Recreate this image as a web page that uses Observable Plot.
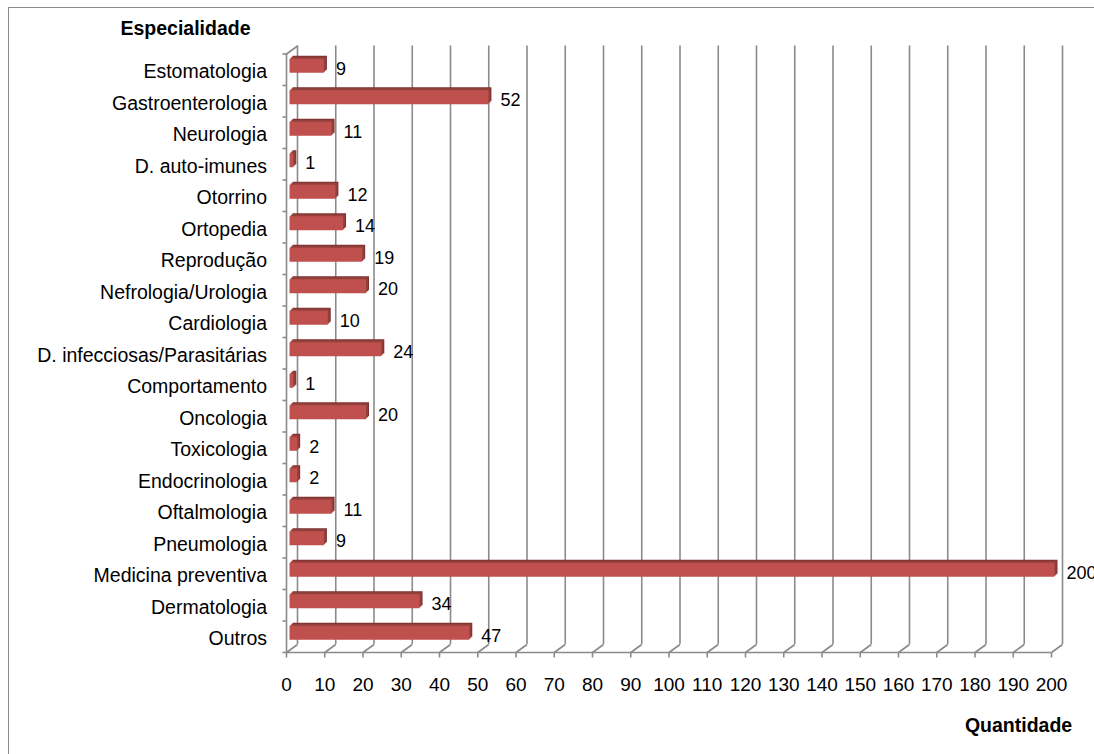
<!DOCTYPE html>
<html><head><meta charset="utf-8">
<script src="https://cdn.jsdelivr.net/npm/d3@7"></script>
<script src="https://cdn.jsdelivr.net/npm/@observablehq/plot@0.6"></script>
<style>
html,body{margin:0;padding:0;background:#fff;overflow:hidden;width:1094px;height:754px}
#chart{position:absolute;left:0;top:0}
#frame{position:absolute;left:8px;top:7px;width:1200px;height:900px;border:1.5px solid #8a8a8a;box-sizing:border-box;pointer-events:none}
</style></head><body><div id="chart"></div><div id="frame"></div>
<script>
const categories = ["Estomatologia", "Gastroenterologia", "Neurologia", "D. auto-imunes", "Otorrino", "Ortopedia", "Reprodução", "Nefrologia/Urologia", "Cardiologia", "D. infecciosas/Parasitárias", "Comportamento", "Oncologia", "Toxicologia", "Endocrinologia", "Oftalmologia", "Pneumologia", "Medicina preventiva", "Dermatologia", "Outros"];
const values = [9, 52, 11, 1, 12, 14, 19, 20, 10, 24, 1, 20, 2, 2, 11, 9, 200, 34, 47];
const xTicks = [0, 10, 20, 30, 40, 50, 60, 70, 80, 90, 100, 110, 120, 130, 140, 150, 160, 170, 180, 190, 200];
const yTitle = "Especialidade";
const xTitle = "Quantidade";

const W = 1094, H = 754, ML = 286, MR = 43, MT = 53.5, MB = 102;
const N = categories.length;
const DX = 11, DY = -8; // 3D depth of the walls, in pixels
const kx = (W - ML - MR) / 200, ky = (H - MT - MB) / N;
const table = categories.map((c, i) => ({cat: c, value: values[i], i}));
const boundaries = d3.range(0, N + 1);
const BH = 14 / ky / 2;
const y1 = d => d.i + 0.5 - BH, y2 = d => d.i + 0.5 + BH;
const grid = "#8a8a8a";
const font = "'Liberation Sans', Arial, sans-serif";

const chart = Plot.plot({
  width: W, height: H,
  marginLeft: ML, marginRight: MR, marginTop: MT, marginBottom: MB,
  style: {fontFamily: font, color: "#000", background: "transparent"},
  x: {domain: [0, 200], axis: null},
  y: {domain: [0, N], reverse: true, axis: null},
  marks: [
    // back wall gridlines
    Plot.ruleX(xTicks, {x: d => d, stroke: grid, strokeWidth: 1.6, dx: DX, dy: DY}),
    // floor diagonals
    Plot.link(xTicks, {x1: d => d, x2: d => d + DX / kx, y1: () => N, y2: () => N + DY / ky, stroke: grid, strokeWidth: 1.6}),
    // left wall top diagonal
    Plot.link([0], {x1: () => 0, x2: () => DX / kx, y1: () => 0, y2: () => DY / ky, stroke: grid, strokeWidth: 1.6}),
    // front axes
    Plot.ruleX([0], {x: d => d, stroke: grid, strokeWidth: 1.6}),
    Plot.ruleY([N], {y: d => d, stroke: grid, strokeWidth: 1.6}),
    // y tick marks
    Plot.link(boundaries, {x1: () => 0, x2: () => -4 / kx, y1: d => d, y2: d => d, stroke: grid, strokeWidth: 1.6}),
    // x tick marks
    Plot.link(xTicks, {x1: d => d, x2: d => d, y1: () => N, y2: () => N + 5 / ky, stroke: grid, strokeWidth: 1.6}),
    // x tick labels
    Plot.text(xTicks, {x: d => d, y: () => N, dy: 32, text: d => String(d), fontSize: 19, lineAnchor: "middle", fill: "#000"}),
    // bars: extrusion then front face
    ...[3, 2, 1].map(k => Plot.rect(table, {x1: () => 0, x2: "value", y1, y2, dx: 3.5 + k, dy: -3.5 - k, fill: k === 3 ? "#7f302e" : "#93403d"})),
    Plot.rect(table, {x1: () => 0, x2: "value", y1, y2, dx: 3.5, dy: -3.5, fill: "#c0504d"}),
    // value labels
    Plot.text(table, {x: "value", y: d => d.i + 0.5, text: d => String(d.value), dx: 15, dy: -1, textAnchor: "start", lineAnchor: "middle", fontSize: 18, fill: "#000"}),
    // category labels
    Plot.text(table, {x: () => 0, y: d => d.i + 0.5, text: "cat", dx: -19.5, dy: 2, textAnchor: "end", lineAnchor: "middle", fontSize: 19.5, fill: "#000"}),
    // axis titles
    Plot.text([yTitle], {frameAnchor: "top-left", text: d => d, dx: 185 - ML, dy: 34.7 - MT, textAnchor: "middle", lineAnchor: "bottom", fontSize: 19.5, fontWeight: "bold", fill: "#000"}),
    Plot.text([xTitle], {frameAnchor: "bottom-right", text: d => d, dx: 1071.7 - (W - MR), dy: 731.7 - (H - MB), textAnchor: "end", lineAnchor: "bottom", fontSize: 19.5, fontWeight: "bold", fill: "#000"})
  ]
});
document.getElementById("chart").appendChild(chart);
</script></body></html>
